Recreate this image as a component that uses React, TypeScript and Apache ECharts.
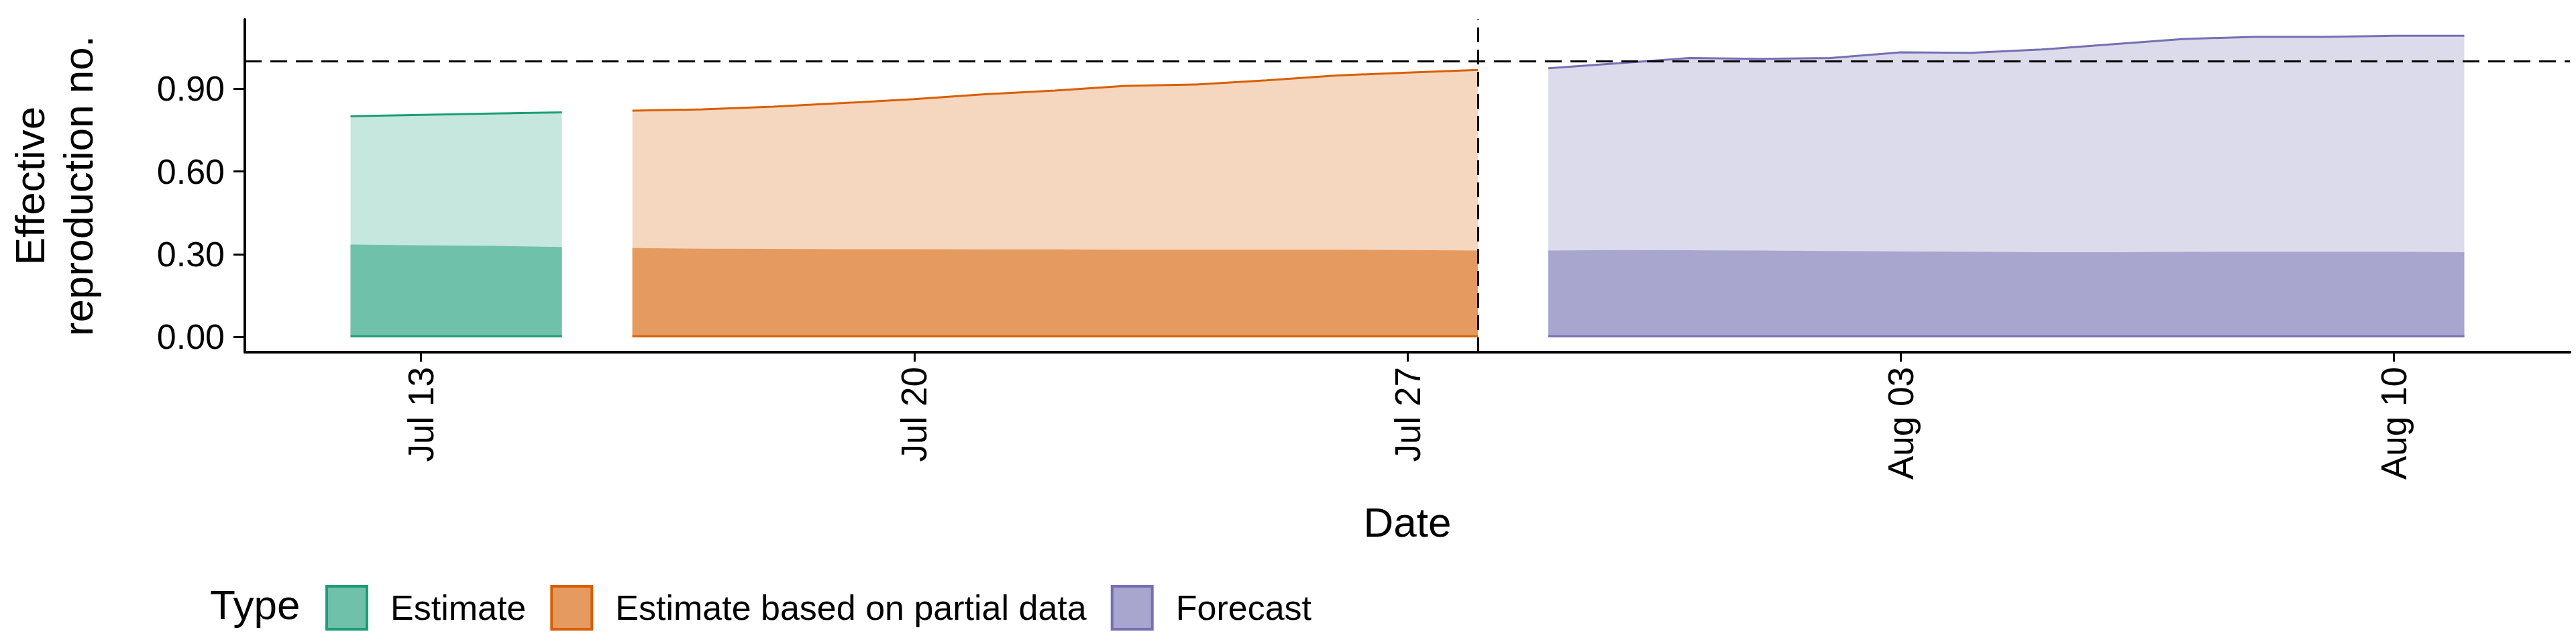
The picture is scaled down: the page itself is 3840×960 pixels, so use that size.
import { useEffect, useRef } from "react";
import * as echarts from "echarts";

// dates as "MM-DD"; all in the same year
const estimateDates = ["07-12", "07-13", "07-14", "07-15"];
const estimateUpper = [0.8, 0.805, 0.81, 0.814];
const estimateMid = [0.335, 0.332, 0.33, 0.326];
const estimateLower = [0.002, 0.002, 0.002, 0.002];

const partialDates = ["07-16", "07-17", "07-18", "07-19", "07-20", "07-21", "07-22", "07-23", "07-24", "07-25", "07-26", "07-27", "07-28"];
const partialUpper = [0.82, 0.825, 0.835, 0.848, 0.862, 0.88, 0.893, 0.91, 0.915, 0.93, 0.948, 0.958, 0.968];
const partialMid = [0.322, 0.32, 0.319, 0.318, 0.318, 0.317, 0.317, 0.316, 0.316, 0.316, 0.316, 0.315, 0.313];
const partialLower = [0.002, 0.002, 0.002, 0.002, 0.002, 0.002, 0.002, 0.002, 0.002, 0.002, 0.002, 0.002, 0.002];

const forecastDates = ["07-29", "07-30", "07-31", "08-01", "08-02", "08-03", "08-04", "08-05", "08-06", "08-07", "08-08", "08-09", "08-10", "08-11"];
const forecastUpper = [0.974, 0.992, 1.011, 1.008, 1.011, 1.032, 1.03, 1.042, 1.061, 1.08, 1.088, 1.088, 1.092, 1.092];
const forecastMid = [0.313, 0.315, 0.314, 0.313, 0.311, 0.31, 0.309, 0.307, 0.307, 0.308, 0.309, 0.309, 0.309, 0.307];
const forecastLower = [0.002, 0.002, 0.002, 0.002, 0.002, 0.002, 0.002, 0.002, 0.002, 0.002, 0.002, 0.002, 0.002, 0.002];

const tickDates = ["07-13", "07-20", "07-27", "08-03", "08-10"];
const yTicks = [0, 0.3, 0.6, 0.9];
const cutoffDate = "07-28";
const months = ["Jan", "Feb", "Mar", "Apr", "May", "Jun", "Jul", "Aug", "Sep", "Oct", "Nov", "Dec"];

// day number counted from 1 July
const toDay = (d: string) => {
  const [m, dd] = d.split("-").map(Number);
  return (m === 8 ? 31 : 0) + dd;
};
const dayLabel = (v: number) => {
  const m = v > 31 ? 8 : 7;
  const d = v > 31 ? v - 31 : v;
  return `${months[m - 1]} ${String(d).padStart(2, "0")}`;
};

const groups = [
  { name: "Estimate", dates: estimateDates, upper: estimateUpper, mid: estimateMid, lower: estimateLower, line: "#1b9e77", light: "#c5e7dd", dark: "#70c1aa" },
  { name: "Estimate based on partial data", dates: partialDates, upper: partialUpper, mid: partialMid, lower: partialLower, line: "#d95f02", light: "#f5d7bf", dark: "#e59a5f" },
  { name: "Forecast", dates: forecastDates, upper: forecastUpper, mid: forecastMid, lower: forecastLower, line: "#7570b3", light: "#dcdbeb", dark: "#a8a5cf" },
];

export default function App() {
  const ref = useRef<HTMLDivElement>(null);

  useEffect(() => {
    if (!ref.current) return;
    document.body.style.margin = "0";
    const chart = echarts.init(ref.current, undefined, { renderer: "svg" });
    const font = "Liberation Sans, Arial, sans-serif";

    const series: any[] = [];
    groups.forEach((g) => {
      const xs = g.dates.map(toDay);
      series.push({
        type: "line", name: g.name + " upper", symbol: "none",
        data: xs.map((x, i) => [x, g.upper[i]]),
        lineStyle: { color: g.line, width: 3 },
        areaStyle: { color: g.light, opacity: 1, origin: "auto" },
      });
      series.push({
        type: "line", name: g.name, symbol: "none",
        data: xs.map((x, i) => [x, g.mid[i]]),
        lineStyle: { width: 0 },
        itemStyle: { color: g.dark },
        areaStyle: { color: g.dark, opacity: 1, origin: "auto" },
      });
      series.push({
        type: "line", name: g.name + " lower", symbol: "none",
        data: xs.map((x, i) => [x, g.lower[i]]),
        lineStyle: { color: g.line, width: 3 },
      });
    });
    series.push({
      type: "line", name: "refs", data: [], symbol: "none",
      markLine: {
        symbol: "none", silent: true, label: { show: false },
        lineStyle: { color: "#000", width: 3, type: [25, 13] },
        data: [{ yAxis: 1 }, { xAxis: toDay(cutoffDate), lineStyle: { type: [22, 11] } }],
      },
    });

    chart.setOption({
      animation: false,
      grid: { left: 307, right: 9, top: 29, bottom: 435 },
      xAxis: {
        type: "value", min: 10.5, max: 43.5,
        name: "Date", nameLocation: "middle", nameGap: 222,
        nameTextStyle: { fontSize: 62, color: "#000", fontFamily: font },
        splitLine: { show: false },
        axisLine: { onZero: false, lineStyle: { color: "#000", width: 4 } },
        axisTick: { show: true, customValues: tickDates.map(toDay), length: 14, lineStyle: { color: "#000", width: 3 } },
        axisLabel: {
          customValues: tickDates.map(toDay), rotate: 90, margin: 22,
          fontSize: 53, color: "#000", fontFamily: font,
          formatter: (v: number) => dayLabel(v),
        },
      },
      yAxis: {
        type: "value", min: -0.0555, max: 1.151,
        name: "Effective\nreproduction no.", nameLocation: "middle", nameGap: 213,
        nameTextStyle: { fontSize: 62, color: "#000", fontFamily: font, lineHeight: 72, align: "center" },
        splitLine: { show: false },
        axisLine: { show: true, onZero: false, lineStyle: { color: "#000", width: 4 } },
        axisTick: { show: true, customValues: yTicks, length: 17, lineStyle: { color: "#000", width: 3 } },
        axisLabel: {
          customValues: yTicks, margin: 30, fontSize: 52, color: "#000", fontFamily: font,
          formatter: (v: number) => v.toFixed(2),
        },
      },
      legend: {
        left: 480, top: 867, itemWidth: 60, itemHeight: 64, itemGap: 36, icon: "rect",
        textStyle: { fontSize: 52, color: "#000", fontFamily: font, padding: [0, 0, 0, 30] },
        data: groups.map((g) => ({ name: g.name, itemStyle: { color: g.dark, borderColor: g.line, borderWidth: 4 } })),
      },
      graphic: [
        { type: "text", left: 313, top: 870, style: { text: "Type", fontSize: 62, fill: "#000", fontFamily: font } },
      ],
      series,
    });

    return () => chart.dispose();
  }, []);

  return <div ref={ref} style={{ width: 3840, height: 960 }} />;
}
